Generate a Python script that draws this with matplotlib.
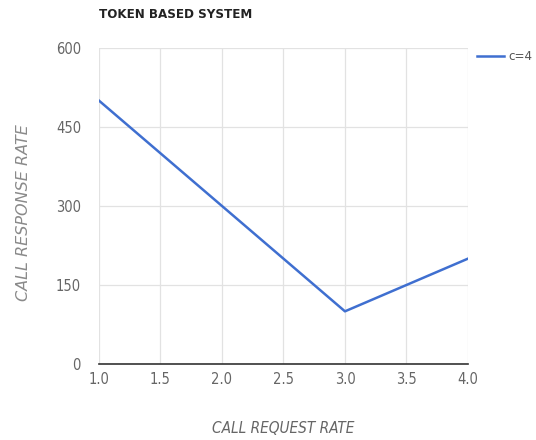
import matplotlib.pyplot as plt

plt.rcParams['font.family'] = ['DejaVu Sans']
plt.rcParams['font.stretch'] = 'condensed'

request_rate = [1.0, 2.0, 3.0, 4.0]
response_rate = [500, 300, 100, 200]
series_name = 'c=4'
x_ticks = [1.0, 1.5, 2.0, 2.5, 3.0, 3.5, 4.0]
y_ticks = [0, 150, 300, 450, 600]

fig = plt.figure(figsize=(5.36, 4.4), dpi=100)
ax = fig.add_axes([0.1847, 0.1727, 0.873 - 0.1847, 0.891 - 0.1727])

ax.plot(request_rate, response_rate, color='#3f6fd0', lw=1.8, label=series_name, zorder=3)

ax.set_xlim(1.0, 4.0)
ax.set_ylim(0, 600)
ax.set_xticks(x_ticks)
ax.set_xticklabels(['%.1f' % t for t in x_ticks])
ax.set_yticks(y_ticks)
ax.grid(True, color='#e2e2e2', lw=0.9)
ax.set_axisbelow(True)
for s in ['top', 'right', 'left']:
    ax.spines[s].set_visible(False)
ax.spines['bottom'].set_color('#333333')
ax.spines['bottom'].set_linewidth(1.2)
ax.tick_params(length=0, colors='#666666', labelsize=10.5)
ax.tick_params(axis='x', pad=6)
ax.tick_params(axis='y', pad=13)

ax.set_xlabel('CALL REQUEST RATE', style='italic', color='#666666', fontsize=11, labelpad=24)
ax.set_ylabel('CALL RESPONSE RATE', style='italic', color='#8a8a8a', fontsize=11.5,
              fontstretch='normal')
ax.yaxis.set_label_coords(-0.185, 0.48)

fig.text(99 / 536, 1 - 14 / 440, 'TOKEN BASED SYSTEM', fontsize=9.5, fontweight='bold',
         color='#222222', va='center', ha='left')

leg = ax.legend(loc='upper left', bbox_to_anchor=(1.0, 1.022), frameon=False,
                handlelength=2.0, handletextpad=0.4, fontsize=9.5, borderaxespad=0.3)
for t in leg.get_texts():
    t.set_color('#555555')

fig.savefig('out.png', dpi=100)
